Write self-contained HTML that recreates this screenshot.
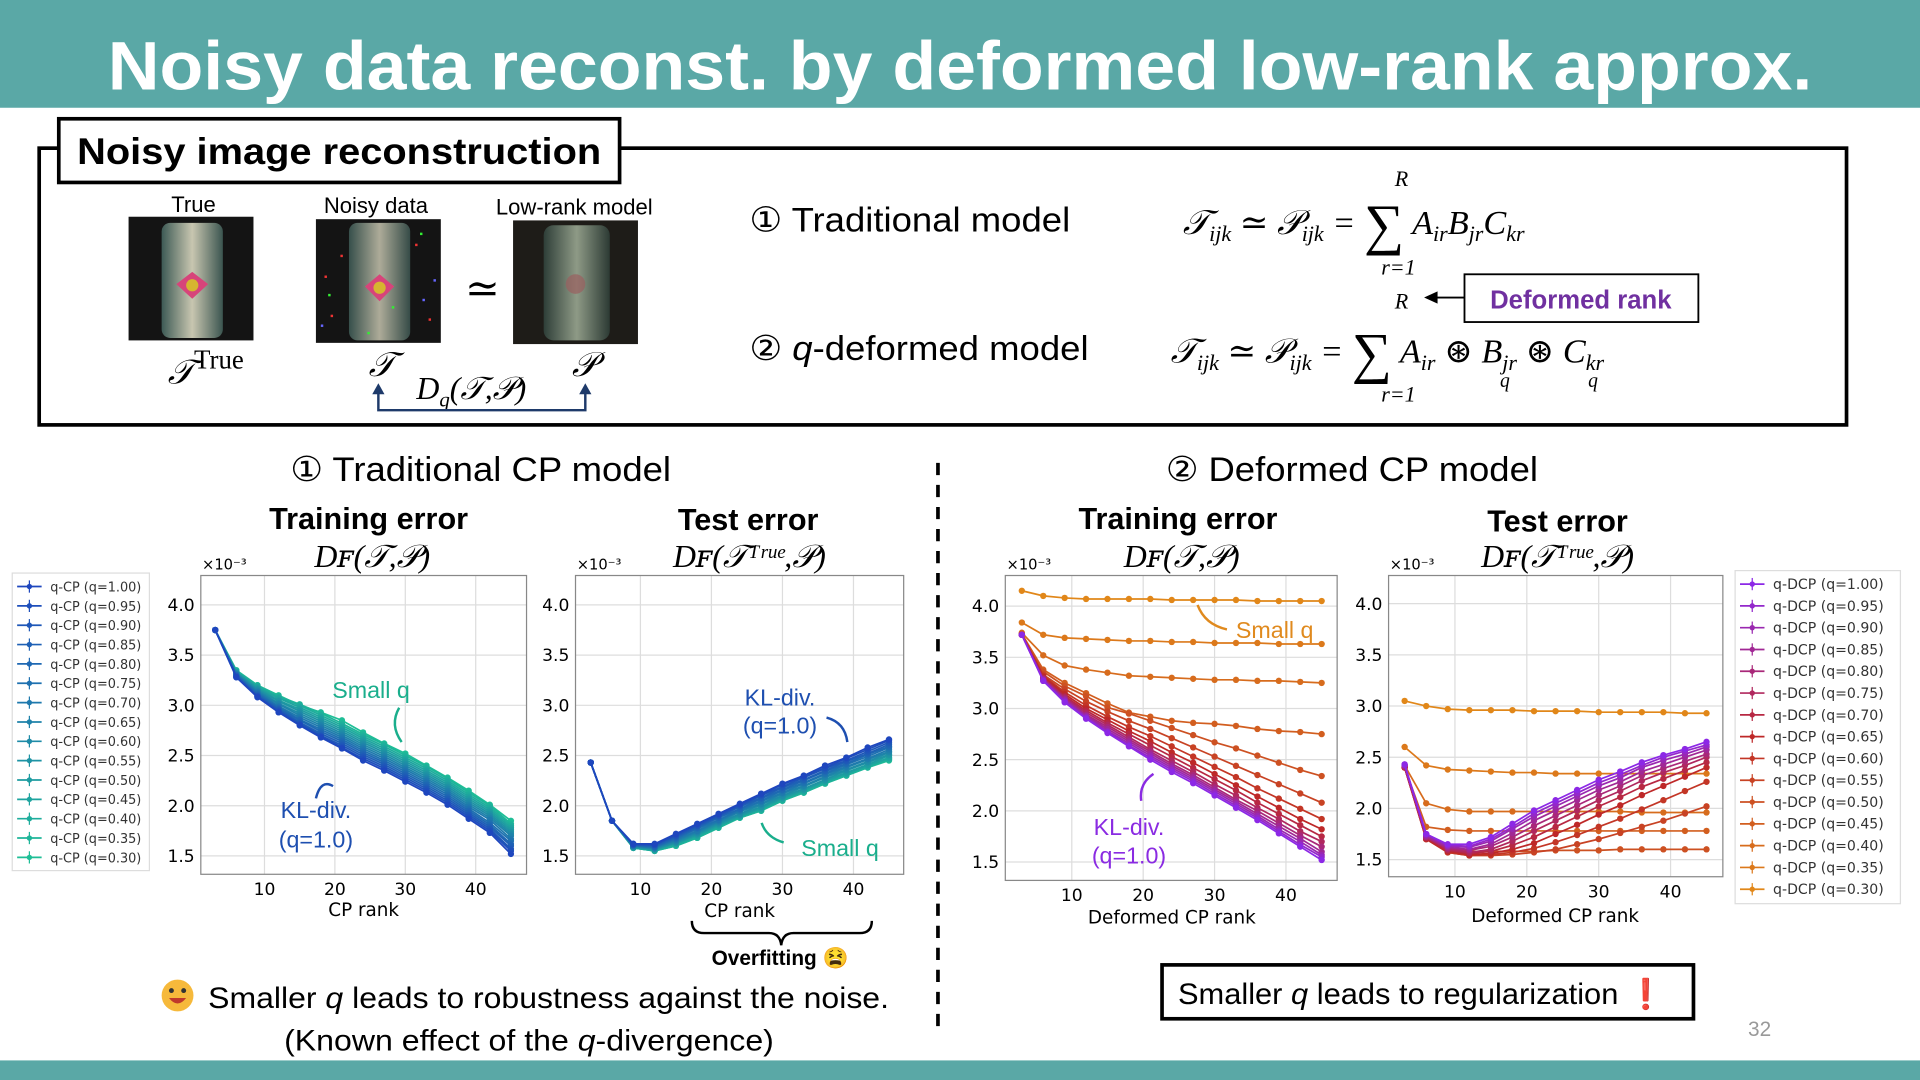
<!DOCTYPE html>
<html><head><meta charset="utf-8"><style>
html,body{margin:0;padding:0;background:#fff;overflow:hidden}
svg{display:block}
.sans{font-family:"Liberation Sans",sans-serif}
.ser{font-family:"Liberation Serif","DejaVu Serif",serif;font-style:italic}
.dj{font-family:"DejaVu Sans","Liberation Sans",sans-serif}
</style></head><body>
<svg id="s" width="1920" height="1080" viewBox="0 0 1568 882" xmlns="http://www.w3.org/2000/svg">
<rect x="0" y="0" width="1568" height="88" fill="#5aa8a6"/>
<text x="784" y="73" text-anchor="middle" class="sans" font-weight="bold" font-size="56" fill="#fff" textLength="1392" lengthAdjust="spacingAndGlyphs">Noisy data reconst. by deformed low-rank approx.</text>
<rect x="0" y="866" width="1568" height="16" fill="#5aa8a6"/>

<!-- top box -->
<rect x="32" y="121" width="1476" height="226" fill="none" stroke="#000" stroke-width="3"/>
<rect x="48" y="97" width="458" height="52" fill="#fff" stroke="#000" stroke-width="3"/>
<text x="277" y="134" text-anchor="middle" class="sans" font-weight="bold" font-size="30" textLength="428" lengthAdjust="spacingAndGlyphs">Noisy image reconstruction</text>
<g class="sans" font-size="18" text-anchor="middle">
<text x="158" y="173">True</text>
<text x="307" y="174">Noisy data</text>
<text x="469" y="175">Low-rank model</text>
</g>
<defs>
<linearGradient id="can" x1="0" x2="1"><stop offset="0" stop-color="#3d5a55"/><stop offset="0.5" stop-color="#c8c6b0"/><stop offset="1" stop-color="#3b5550"/></linearGradient>
<linearGradient id="can2" x1="0" x2="1"><stop offset="0" stop-color="#2e3e38"/><stop offset="0.5" stop-color="#8e9a86"/><stop offset="1" stop-color="#2c3a34"/></linearGradient>
</defs>
<g>
<rect x="105" y="177" width="102" height="101" fill="#141414"/>
<rect x="132" y="182" width="50" height="94" rx="7" fill="url(#can)"/>
<polygon points="157,222 170,232 157,244 144,232" fill="#d7447a"/><circle cx="157" cy="233" r="5" fill="#d6b530"/>
</g>
<g>
<rect x="258" y="179" width="102" height="101" fill="#141414"/>
<rect x="285" y="182" width="50" height="96" rx="7" fill="url(#can)" opacity="0.85"/>
<polygon points="310,224 322,234 310,246 298,234" fill="#d7447a"/><circle cx="310" cy="235" r="5" fill="#d6b530"/>
<g fill="#e33"><rect x="265" y="225" width="2" height="2"/><rect x="270" y="257" width="2" height="2"/><rect x="339" y="199" width="2" height="2"/><rect x="350" y="260" width="2" height="2"/><rect x="278" y="208" width="2" height="2"/></g>
<g fill="#3e3"><rect x="268" y="240" width="2" height="2"/><rect x="343" y="190" width="2" height="2"/><rect x="300" y="271" width="2" height="2"/><rect x="320" y="250" width="2" height="2"/></g>
<g fill="#66f"><rect x="354" y="228" width="2" height="2"/><rect x="262" y="265" width="2" height="2"/><rect x="345" y="244" width="2" height="2"/></g>
</g>
<text x="394" y="247" text-anchor="middle" class="ser" font-style="normal" font-size="34">≃</text>
<g>
<rect x="419" y="180" width="102" height="101" fill="#1e1c18"/>
<rect x="444" y="184" width="54" height="94" rx="8" fill="url(#can2)"/>
<circle cx="470" cy="232" r="8" fill="#9a6060" opacity="0.7"/>
</g>
<g class="ser" font-size="28">
<text x="137" y="313">𝒯<tspan font-style="normal" font-size="22" dy="-12">True</tspan></text>
<text x="301" y="307">𝒯</text>
<text x="467" y="307">𝒫</text>
<text x="340" y="326" font-size="26">D<tspan font-size="17" dy="6">q</tspan><tspan dy="-6">(𝒯,𝒫)</tspan></text>
</g>
<g stroke="#1e3a6a" stroke-width="2" fill="none">
<polyline points="309,320 309,335 478,335 478,320"/>
</g>
<polygon points="304,322 314,322 309,313" fill="#1e3a6a"/><polygon points="473,322 483,322 478,313" fill="#1e3a6a"/>

<text x="612" y="189" class="sans" font-size="28" textLength="262" lengthAdjust="spacingAndGlyphs">① Traditional model</text>
<text x="612" y="294" class="sans" font-size="28" textLength="277" lengthAdjust="spacingAndGlyphs">② <tspan font-style="italic">q</tspan>-deformed model</text>
<g class="ser" font-size="28">
<text x="966" y="191">𝒯<tspan font-size="18" dy="6">ijk</tspan><tspan dy="-6"> ≃ 𝒫</tspan><tspan font-size="18" dy="6">ijk</tspan><tspan dy="-6"> = </tspan><tspan font-style="normal" font-size="46" dy="8">∑</tspan><tspan dy="-8"> A</tspan><tspan font-size="18" dy="6">ir</tspan><tspan dy="-6">B</tspan><tspan font-size="18" dy="6">jr</tspan><tspan dy="-6">C</tspan><tspan font-size="18" dy="6">kr</tspan></text>
<text x="1139" y="152" font-size="18">R</text><text x="1128" y="224" font-size="18">r=1</text>
<text x="956" y="296">𝒯<tspan font-size="18" dy="6">ijk</tspan><tspan dy="-6"> ≃ 𝒫</tspan><tspan font-size="18" dy="6">ijk</tspan><tspan dy="-6"> = </tspan><tspan font-style="normal" font-size="46" dy="8">∑</tspan><tspan dy="-8"> A</tspan><tspan font-size="18" dy="6">ir</tspan><tspan dy="-6" font-style="normal"> ⊛ </tspan><tspan>B</tspan><tspan font-size="18" dy="6">jr</tspan><tspan dy="-6" font-style="normal"> ⊛ </tspan><tspan>C</tspan><tspan font-size="18" dy="6">kr</tspan></text>
<text x="1139" y="252" font-size="18">R</text><text x="1128" y="328" font-size="18">r=1</text>
<text x="1225" y="316" font-size="16">q</text><text x="1297" y="316" font-size="16">q</text>
</g>
<rect x="1196" y="224" width="191" height="39" fill="#fff" stroke="#000" stroke-width="1.5"/>
<text x="1291" y="252" text-anchor="middle" class="sans" font-weight="bold" font-size="21" fill="#7030a0">Deformed rank</text>
<line x1="1196" y1="243" x2="1172" y2="243" stroke="#000" stroke-width="1.5"/><polygon points="1163,243 1174,238 1174,248" fill="#000"/>

<!-- section headers -->
<text x="237" y="393" class="sans" font-size="28" textLength="311" lengthAdjust="spacingAndGlyphs">① Traditional CP model</text>
<text x="952" y="393" class="sans" font-size="28" textLength="304" lengthAdjust="spacingAndGlyphs">② Deformed CP model</text>
<line x1="766" y1="378" x2="766" y2="845" stroke="#000" stroke-width="3" stroke-dasharray="10,8"/>

<g id="charts"></g>

<!-- brace + overfitting -->
<path d="M565,752 Q565,762 575,762 L628,762 Q637,762 638,772 Q639,762 648,762 L702,762 Q712,762 712,752" fill="none" stroke="#000" stroke-width="2"/>
<text x="637" y="788" text-anchor="middle" class="sans" font-weight="bold" font-size="17">Overfitting 😫</text>

<g><circle cx="145" cy="813" r="13" fill="#f6b93b"/><circle cx="140" cy="809" r="2" fill="#333"/><circle cx="150" cy="809" r="2" fill="#333"/><path d="M138,815 Q145,824 152,815 Z" fill="#c0392b"/></g>
<text x="170" y="823" class="sans" font-size="24" textLength="556" lengthAdjust="spacingAndGlyphs">Smaller <tspan font-style="italic">q</tspan> leads to robustness against the noise.</text>
<text x="232" y="858" class="sans" font-size="24" textLength="400" lengthAdjust="spacingAndGlyphs">(Known effect of the <tspan font-style="italic">q</tspan>-divergence)</text>
<rect x="949" y="788" width="434" height="44" fill="#fff" stroke="#000" stroke-width="3"/>
<text x="962" y="820" class="sans" font-size="24" textLength="398" lengthAdjust="spacingAndGlyphs">Smaller <tspan font-style="italic">q</tspan> leads to regularization <tspan fill="#e0245e" font-weight="bold">❗</tspan></text>
<text x="1437" y="846" text-anchor="middle" class="sans" font-size="17" fill="#999">32</text>
</svg>
<script>
const ranks=[3,6,9,12,15,18,21,24,27,30,33,36,39,42,45];
const qLabels=["1.00","0.95","0.90","0.85","0.80","0.75","0.70","0.65","0.60","0.55","0.50","0.45","0.40","0.35","0.30"];
const yTicks=[1.5,2.0,2.5,3.0,3.5,4.0];
const xTicks=[10,20,30,40];
const trainCP=[
[3.75,3.28,3.08,2.93,2.80,2.68,2.57,2.45,2.35,2.24,2.13,2.01,1.87,1.73,1.52],
[3.75,3.28,3.09,2.94,2.81,2.69,2.58,2.47,2.37,2.26,2.15,2.03,1.89,1.75,1.55],
[3.75,3.29,3.09,2.95,2.82,2.70,2.60,2.49,2.39,2.28,2.17,2.05,1.91,1.77,1.57],
[3.75,3.29,3.10,2.96,2.83,2.72,2.62,2.51,2.41,2.30,2.19,2.07,1.93,1.79,1.60],
[3.75,3.30,3.11,2.97,2.85,2.74,2.64,2.53,2.43,2.32,2.21,2.09,1.95,1.81,1.62],
[3.75,3.30,3.12,2.98,2.86,2.76,2.66,2.55,2.45,2.34,2.23,2.11,1.97,1.83,1.65],
[3.75,3.31,3.13,2.99,2.88,2.78,2.68,2.57,2.47,2.36,2.25,2.13,1.99,1.86,1.67],
[3.75,3.31,3.14,3.01,2.90,2.80,2.70,2.59,2.49,2.38,2.27,2.15,2.01,1.88,1.70],
[3.75,3.32,3.15,3.02,2.92,2.82,2.72,2.61,2.51,2.40,2.29,2.17,2.03,1.90,1.72],
[3.75,3.32,3.16,3.04,2.94,2.84,2.74,2.63,2.53,2.42,2.31,2.19,2.05,1.92,1.74],
[3.75,3.33,3.17,3.05,2.96,2.86,2.76,2.65,2.55,2.44,2.33,2.21,2.07,1.94,1.76],
[3.75,3.33,3.18,3.07,2.98,2.88,2.78,2.67,2.57,2.46,2.35,2.23,2.09,1.96,1.78],
[3.75,3.34,3.19,3.08,3.00,2.90,2.80,2.69,2.59,2.48,2.37,2.25,2.11,1.98,1.80],
[3.75,3.34,3.20,3.09,3.01,2.92,2.82,2.71,2.61,2.50,2.39,2.27,2.13,2.00,1.82],
[3.75,3.35,3.20,3.10,3.00,2.93,2.85,2.73,2.62,2.52,2.40,2.28,2.15,2.01,1.85]];
const testCP=[
[2.43,1.85,1.62,1.62,1.72,1.82,1.92,2.02,2.12,2.22,2.30,2.40,2.48,2.58,2.66],
[2.43,1.85,1.62,1.61,1.71,1.81,1.91,2.01,2.11,2.21,2.29,2.38,2.47,2.56,2.65],
[2.43,1.85,1.61,1.61,1.70,1.80,1.90,2.00,2.10,2.19,2.28,2.37,2.45,2.54,2.63],
[2.43,1.85,1.61,1.60,1.69,1.79,1.89,1.99,2.08,2.18,2.26,2.35,2.44,2.52,2.61],
[2.43,1.85,1.61,1.59,1.68,1.78,1.88,1.97,2.07,2.16,2.25,2.34,2.42,2.51,2.59],
[2.43,1.85,1.60,1.59,1.67,1.77,1.86,1.96,2.05,2.15,2.23,2.32,2.41,2.49,2.58],
[2.43,1.85,1.60,1.58,1.66,1.75,1.85,1.95,2.04,2.13,2.22,2.31,2.39,2.47,2.56],
[2.43,1.85,1.60,1.58,1.65,1.74,1.84,1.94,2.02,2.12,2.20,2.29,2.38,2.46,2.54],
[2.43,1.85,1.59,1.57,1.64,1.73,1.83,1.92,2.01,2.10,2.19,2.28,2.36,2.44,2.53],
[2.43,1.85,1.59,1.57,1.63,1.72,1.82,1.91,1.99,2.09,2.17,2.26,2.35,2.43,2.51],
[2.43,1.85,1.59,1.56,1.63,1.71,1.81,1.90,1.98,2.08,2.16,2.25,2.33,2.41,2.50],
[2.43,1.85,1.58,1.56,1.62,1.70,1.80,1.89,1.97,2.07,2.15,2.24,2.32,2.40,2.48],
[2.43,1.85,1.58,1.55,1.61,1.69,1.79,1.89,1.96,2.06,2.14,2.23,2.31,2.39,2.47],
[2.43,1.85,1.58,1.55,1.60,1.68,1.78,1.88,1.95,2.05,2.13,2.22,2.30,2.38,2.46],
[2.43,1.85,1.58,1.55,1.60,1.68,1.78,1.88,1.95,2.05,2.13,2.22,2.30,2.38,2.45]];
const trainDCP=[
[3.72,3.27,3.06,2.90,2.76,2.63,2.50,2.38,2.27,2.15,2.03,1.91,1.78,1.65,1.52],
[3.72,3.27,3.07,2.91,2.77,2.64,2.52,2.40,2.29,2.17,2.05,1.93,1.80,1.67,1.55],
[3.72,3.28,3.08,2.92,2.78,2.66,2.54,2.42,2.31,2.19,2.07,1.95,1.82,1.70,1.57],
[3.72,3.28,3.09,2.93,2.80,2.68,2.56,2.44,2.33,2.21,2.09,1.97,1.85,1.73,1.60],
[3.72,3.29,3.10,2.94,2.82,2.70,2.58,2.46,2.35,2.23,2.11,2.00,1.88,1.76,1.65],
[3.72,3.29,3.11,2.96,2.84,2.72,2.60,2.49,2.38,2.26,2.15,2.03,1.92,1.80,1.70],
[3.72,3.30,3.12,2.98,2.86,2.75,2.64,2.53,2.42,2.31,2.20,2.08,1.97,1.86,1.75],
[3.72,3.31,3.14,3.00,2.89,2.78,2.68,2.57,2.47,2.36,2.25,2.14,2.03,1.92,1.82],
[3.72,3.32,3.16,3.03,2.92,2.82,2.73,2.63,2.53,2.43,2.33,2.22,2.12,2.02,1.92],
[3.72,3.33,3.19,3.07,2.97,2.88,2.80,2.71,2.62,2.53,2.44,2.35,2.26,2.17,2.08],
[3.72,3.36,3.22,3.12,3.01,2.95,2.88,2.81,2.74,2.67,2.61,2.54,2.47,2.40,2.34],
[3.73,3.38,3.25,3.15,3.05,2.96,2.92,2.88,2.86,2.85,2.83,2.80,2.78,2.77,2.75],
[3.74,3.52,3.42,3.38,3.35,3.32,3.31,3.30,3.29,3.28,3.28,3.27,3.27,3.26,3.25],
[3.84,3.72,3.69,3.68,3.67,3.66,3.66,3.65,3.65,3.64,3.64,3.64,3.63,3.63,3.63],
[4.15,4.10,4.08,4.07,4.07,4.07,4.07,4.06,4.06,4.06,4.06,4.05,4.05,4.05,4.05]];
const testDCP=[
[2.43,1.75,1.65,1.65,1.72,1.85,1.98,2.08,2.18,2.28,2.36,2.45,2.52,2.58,2.65],
[2.43,1.75,1.64,1.63,1.70,1.82,1.95,2.05,2.15,2.25,2.33,2.42,2.50,2.56,2.62],
[2.42,1.74,1.63,1.62,1.68,1.80,1.92,2.02,2.12,2.22,2.30,2.40,2.47,2.53,2.60],
[2.42,1.73,1.62,1.60,1.65,1.76,1.88,1.98,2.08,2.18,2.26,2.36,2.43,2.50,2.57],
[2.41,1.72,1.61,1.59,1.63,1.72,1.83,1.93,2.03,2.13,2.22,2.32,2.39,2.46,2.53],
[2.41,1.72,1.60,1.57,1.60,1.68,1.78,1.88,1.98,2.08,2.17,2.27,2.35,2.42,2.50],
[2.40,1.71,1.59,1.56,1.58,1.64,1.72,1.82,1.92,2.02,2.11,2.21,2.29,2.37,2.45],
[2.40,1.70,1.58,1.55,1.56,1.60,1.66,1.75,1.84,1.94,2.03,2.13,2.22,2.31,2.40],
[2.40,1.70,1.57,1.54,1.55,1.57,1.61,1.67,1.74,1.82,1.90,1.99,2.08,2.17,2.26],
[2.40,1.70,1.57,1.54,1.54,1.55,1.57,1.60,1.65,1.70,1.76,1.82,1.88,1.95,2.02],
[2.40,1.72,1.60,1.58,1.58,1.58,1.58,1.59,1.59,1.59,1.60,1.60,1.60,1.60,1.60],
[2.40,1.82,1.79,1.78,1.78,1.78,1.78,1.78,1.78,1.78,1.78,1.78,1.78,1.78,1.78],
[2.42,2.05,1.99,1.97,1.97,1.97,1.97,1.97,1.97,1.97,1.97,1.96,1.96,1.96,1.96],
[2.60,2.42,2.38,2.37,2.36,2.35,2.35,2.34,2.34,2.34,2.34,2.34,2.34,2.34,2.34],
[3.05,3.00,2.97,2.96,2.96,2.96,2.95,2.95,2.95,2.94,2.94,2.94,2.94,2.93,2.93]];

const NS="http://www.w3.org/2000/svg";
const root=document.getElementById('charts');
function mk(tag,attrs,parent){const e=document.createElementNS(NS,tag);for(const k in attrs)e.setAttribute(k,attrs[k]);(parent||root).appendChild(e);return e;}
function mix(a,b,t){const p=[0,1,2].map(i=>Math.round(a[i]+(b[i]-a[i])*t));return `rgb(${p[0]},${p[1]},${p[2]})`;}
function blueTeal(i){return mix([30,70,190],[30,190,150],i/14);}
function purpOrange(i){if(i<7)return mix([140,40,230],[190,40,40],i/7);return mix([190,40,40],[225,135,25],(i-7)/7);}
function chart(name,box,x0,xs,y15,y4,data,colFn){
 const g=mk('g',{});
 
 
 const X=v=>x0+v*xs;
 const Y=v=>y15+(v-1.5)*(y4-y15)/2.5;
 mk('rect',{x:box[0],y:box[1],width:box[2]-box[0],height:box[3]-box[1],fill:'#fff'},g);
 xTicks.forEach(t=>{mk('line',{x1:X(t),x2:X(t),y1:box[1],y2:box[3],stroke:'#ddd','stroke-width':1},g);
  const tx=mk('text',{x:X(t),y:box[3]+17,'text-anchor':'middle','font-size':14,class:'dj'},g);tx.textContent=t;
  
  });
 yTicks.forEach(t=>{mk('line',{x1:box[0],x2:box[2],y1:Y(t),y2:Y(t),stroke:'#ddd','stroke-width':1},g);
  const tx=mk('text',{x:box[0]-5,y:Y(t)+5,'text-anchor':'end','font-size':14,class:'dj'},g);tx.textContent=t.toFixed(1);
  
  });
 for(let s=data.length-1;s>=0;s--){
  const c=colFn(s);
  const pl=mk('polyline',{points:data[s].map((v,i)=>X(ranks[i])+','+Y(v)).join(' '),fill:'none',stroke:c,'stroke-width':1.4},g);
  
  
  data[s].forEach((v,i)=>{const d=mk('circle',{cx:X(ranks[i]),cy:Y(v),r:2.6,fill:c},g);
   
   });
 }
 mk('rect',{x:box[0],y:box[1],width:box[2]-box[0],height:box[3]-box[1],fill:'none',stroke:'#888','stroke-width':1},g);
 const sc=mk('text',{x:box[0]+1,y:box[1]-5,'font-size':12,class:'dj'},g);sc.textContent='×10⁻³';
 
 
}
chart('train-cp-chart',[164,470,430,714],158.5,5.75,699,494,trainCP,blueTeal);
chart('test-cp-chart',[470,470,738,714],465,5.8,699,494,testCP,blueTeal);
chart('train-dcp-chart',[821,470,1092,719],817,5.83,704,495,trainDCP,purpOrange);
chart('test-dcp-chart',[1134,470,1407,716],1129.5,5.87,702,493,testDCP,purpOrange);

function txt(name,x,y,s,attrs){const t=mk('text',Object.assign({x:x,y:y},attrs||{}));t.textContent=s;
 
 return t;}
const B={class:'sans','font-weight':'bold','font-size':25,'text-anchor':'middle'};
txt('train-cp-title',301,432,'Training error',B);txt('test-cp-title',611,433,'Test error',B);
txt('train-dcp-title',962,432,'Training error',B);txt('test-dcp-title',1272,434,'Test error',B);
const F={class:'ser','font-size':26,'text-anchor':'middle'};
txt('train-cp-formula',304,463,'Dꜰ(𝒯,𝒫)',F);
txt('test-cp-formula',612,463,'Dꜰ(𝒯ᵀʳᵘᵉ,𝒫)',F);
txt('train-dcp-formula',965,463,'Dꜰ(𝒯,𝒫)',F);
txt('test-dcp-formula',1272,463,'Dꜰ(𝒯ᵀʳᵘᵉ,𝒫)',F);
const XL={class:'dj','font-size':15,'text-anchor':'middle'};
txt('train-cp-x-title',297,748,'CP rank',XL);txt('test-cp-x-title',604,749,'CP rank',XL);
txt('train-dcp-x-title',957,754,'Deformed CP rank',XL);txt('test-dcp-x-title',1270,753,'Deformed CP rank',XL);
const A={class:'sans','font-size':19,'text-anchor':'middle'};
txt('small-q-annot-1',303,570,'Small q',Object.assign({fill:'#1aae8c'},A));
txt('kl-annot-1',258,668,'KL-div.',Object.assign({fill:'#1e4fb0'},A));
txt('kl-q-annot-1',258,692,'(q=1.0)',Object.assign({fill:'#1e4fb0'},A));
txt('kl-annot-2',637,576,'KL-div.',Object.assign({fill:'#1e4fb0'},A));
txt('kl-q-annot-2',637,599,'(q=1.0)',Object.assign({fill:'#1e4fb0'},A));
txt('small-q-annot-2',686,699,'Small q',Object.assign({fill:'#1aae8c'},A));
txt('small-q-annot-3',1041,521,'Small q',Object.assign({fill:'#e08a1e'},A));
txt('kl-annot-3',922,682,'KL-div.',Object.assign({fill:'#8a2be2'},A));
txt('kl-q-annot-3',922,705,'(q=1.0)',Object.assign({fill:'#8a2be2'},A));
[['M326,578 Q318,592 328,606','#1aae8c'],['M272,642 Q262,636 258,652','#1e4fb0'],['M675,586 Q690,590 692,606','#1e4fb0'],['M640,688 Q626,684 622,672','#1aae8c'],['M1002,514 Q984,510 978,494','#e08a1e'],['M932,654 Q930,640 942,632','#8a2be2']].forEach(a=>{
 const p=mk('path',{d:a[0],fill:'none',stroke:a[1],'stroke-width':2});
 
 });
function legend(name,x,y,w,h,step,fs,prefix,colFn){
 const g=mk('g',{});
 
 
 mk('rect',{x:x,y:y,width:w,height:h,fill:'#fff',stroke:'#ddd'},g);
 qLabels.forEach((q,i)=>{const yy=y+11+i*step;const c=colFn(i);
  mk('line',{x1:x+4,x2:x+24,y1:yy,y2:yy,stroke:c,'stroke-width':1.4},g);
  mk('line',{x1:x+14,x2:x+14,y1:yy-5,y2:yy+5,stroke:c,'stroke-width':1},g);
  mk('circle',{cx:x+14,cy:yy,r:2.2,fill:c},g);
  const t=mk('text',{x:x+31,y:yy+4,'font-size':fs,class:'dj',fill:'#333'},g);
  t.textContent=prefix+' (q='+q+')';
  
  });
}
legend('cp-legend',10,468,112,243,15.8,10.5,'q-CP',blueTeal);
legend('dcp-legend',1417,466,135,272,17.8,11.5,'q-DCP',purpOrange);
</script>
</body></html>
